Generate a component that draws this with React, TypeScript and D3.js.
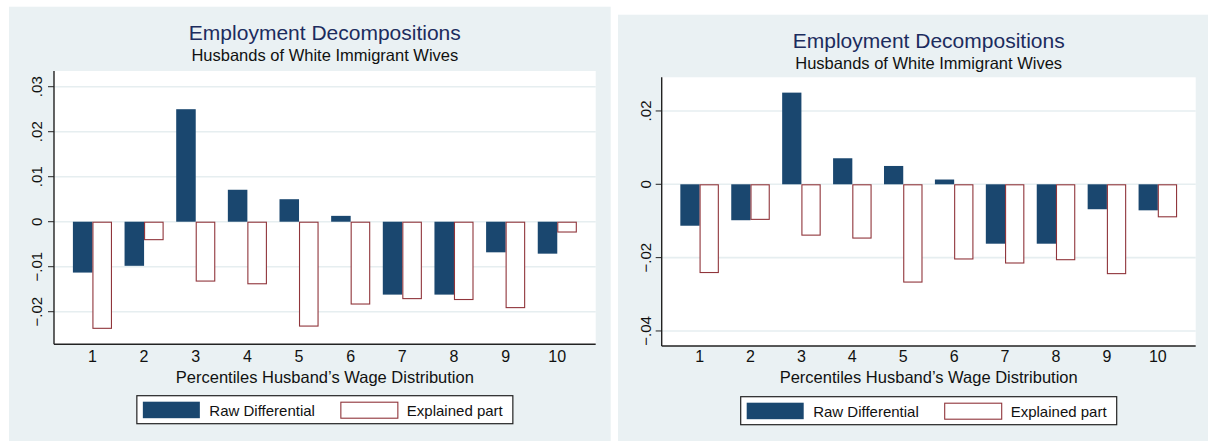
import React from 'react';
import * as d3 from 'd3';

// percentile groups on the x axis
const GROUPS = [1, 2, 3, 4, 5, 6, 7, 8, 9, 10];

// raw differential (same in both panels)
const RAW = [-0.0113, -0.0098, 0.025, 0.0071, 0.005, 0.0013, -0.0162, -0.0162, -0.0068, -0.0071];

// explained part, left and right panel
const EXPLAINED_LEFT = [-0.0238, -0.0041, -0.0133, -0.0139, -0.0233, -0.0184, -0.0172, -0.0174, -0.0192, -0.0024];
const EXPLAINED_RIGHT = [-0.0242, -0.0097, -0.014, -0.0148, -0.0268, -0.0205, -0.0216, -0.0207, -0.0245, -0.009];

// y ticks and their labels
const TICKS_LEFT = [-0.02, -0.01, 0, 0.01, 0.02, 0.03];
const TICK_LABELS_LEFT = ['\u2212.02', '\u2212.01', '0', '.01', '.02', '.03'];
const TICKS_RIGHT = [-0.04, -0.02, 0, 0.02];
const TICK_LABELS_RIGHT = ['\u2212.04', '\u2212.02', '0', '.02'];

const TITLE = 'Employment Decompositions';
const SUBTITLE = 'Husbands of White Immigrant Wives';
const X_TITLE = 'Percentiles Husband\u2019s Wage Distribution';
const LEGEND = ['Raw Differential', 'Explained part'];

const NAVY = '#1a476f';
const MAROON = '#90353b';
const BG = '#eaf1f3';
const GRID = '#e6eef0';
const FONT = '"Liberation Sans", Arial, Helvetica, sans-serif';

type PanelProps = {
  bg: [number, number, number, number];
  plot: { left: number; right: number; top: number; bottom: number };
  yDomain: [number, number];
  ticks: number[];
  tickLabels: string[];
  explained: number[];
  titleY: number;
  labelGap: number;
  legendY: number;
};

const Panel = ({ bg, plot, yDomain, ticks, tickLabels, explained, titleY, labelGap, legendY }: PanelProps) => {
  const x = d3.scaleLinear().domain([0.256, 10.744]).range([plot.left, plot.right]);
  const y = d3.scaleLinear().domain(yDomain).range([plot.bottom, plot.top]);
  const step = x(2) - x(1);
  const bw = step * 0.378;
  const cx = (plot.left + plot.right) / 2;

  // legend layout
  const legW = 376;
  const legL = cx - legW / 2;

  return (
    <g>
      <rect x={bg[0]} y={bg[1]} width={bg[2] - bg[0]} height={bg[3] - bg[1]} fill={BG} />
      <rect x={plot.left} y={plot.top} width={plot.right - plot.left} height={plot.bottom - plot.top} fill="#fff" />

      {/* gridlines */}
      {ticks.map((t) => (
        <line key={'g' + t} x1={plot.left} x2={plot.right} y1={y(t)} y2={y(t)} stroke={GRID} strokeWidth={1.6} />
      ))}

      {/* bars */}
      {GROUPS.map((g, i) => {
        const v = RAW[i];
        return (
          <rect key={'r' + g} x={x(g) - bw} y={Math.min(y(v), y(0))} width={bw}
            height={Math.abs(y(v) - y(0))} fill={NAVY} />
        );
      })}
      {GROUPS.map((g, i) => {
        const v = explained[i];
        return (
          <rect key={'e' + g} x={x(g) + 0.5} y={Math.min(y(v), y(0)) + 0.5} width={bw - 1}
            height={Math.abs(y(v) - y(0)) - 1} fill="#fff" stroke={MAROON} strokeWidth={1.1} />
        );
      })}

      {/* axes */}
      <line x1={plot.left} x2={plot.left} y1={plot.top} y2={plot.bottom} stroke="#222" strokeWidth={1.4} />
      <line x1={plot.left} x2={plot.right} y1={plot.bottom} y2={plot.bottom} stroke="#222" strokeWidth={1.4} />
      {ticks.map((t, i) => (
        <g key={'t' + t}>
          <line x1={plot.left - 6} x2={plot.left} y1={y(t)} y2={y(t)} stroke="#222" strokeWidth={1} />
          <text transform={`translate(${plot.left - labelGap},${y(t)}) rotate(-90)`} textAnchor="middle"
            fontSize={15} fill="#111">{tickLabels[i]}</text>
        </g>
      ))}
      {GROUPS.map((g) => (
        <text key={'x' + g} x={x(g)} y={362} textAnchor="middle" fontSize={16} fill="#111">{g}</text>
      ))}

      {/* titles */}
      <text x={cx} y={titleY} textAnchor="middle" fontSize={21} fill="#1c2c5e">{TITLE}</text>
      <text x={cx} y={titleY + 21} textAnchor="middle" fontSize={16.5} fill="#111">{SUBTITLE}</text>
      <text x={cx} y={383} textAnchor="middle" fontSize={16.5} fill="#111">{X_TITLE}</text>

      {/* legend */}
      <rect x={legL} y={legendY} width={legW} height={28} fill="#fff" stroke="#222" strokeWidth={1.2} />
      <rect x={legL + 6} y={legendY + 6} width={57} height={16.5} fill={NAVY} />
      <text x={legL + 72.5} y={legendY + 20.5} fontSize={15} fill="#111">{LEGEND[0]}</text>
      <rect x={legL + 204} y={legendY + 6.5} width={57} height={16} fill="#fff" stroke={MAROON} strokeWidth={1.1} />
      <text x={legL + 270} y={legendY + 20.5} fontSize={15} fill="#111">{LEGEND[1]}</text>
    </g>
  );
};

const App = () => {
  return (
    <svg width={1208} height={441} style={{ position: 'absolute', left: 0, top: 0 }} fontFamily={FONT}>
      <rect width={1208} height={441} fill="#fff" />
      <Panel
        bg={[9, 6.7, 610.7, 441]}
        plot={{ left: 54, right: 595.7, top: 71, bottom: 344.3 }}
        yDomain={[-0.02724, 0.03349]}
        ticks={TICKS_LEFT}
        tickLabels={TICK_LABELS_LEFT}
        explained={EXPLAINED_LEFT}
        titleY={40}
        labelGap={12.3}
        legendY={395.7}
      />
      <Panel
        bg={[618, 14.7, 1208, 441]}
        plot={{ left: 661.7, right: 1195.7, top: 77.3, bottom: 346 }}
        yDomain={[-0.0441, 0.02918]}
        ticks={TICKS_RIGHT}
        tickLabels={TICK_LABELS_RIGHT}
        explained={EXPLAINED_RIGHT}
        titleY={48}
        labelGap={10.5}
        legendY={396.7}
      />
    </svg>
  );
};

export default App;
